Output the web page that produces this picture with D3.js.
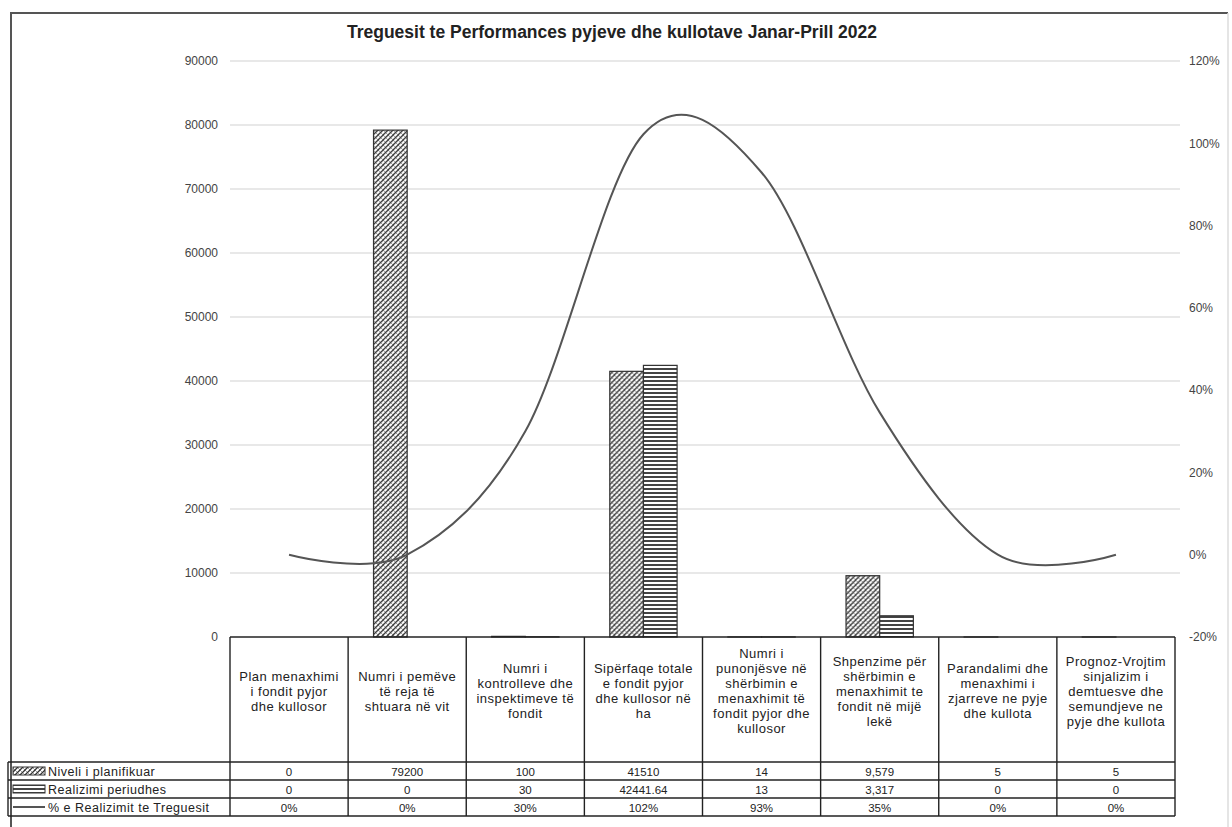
<!DOCTYPE html>
<html>
<head>
<meta charset="utf-8">
<script src="https://cdn.jsdelivr.net/npm/d3@7"></script>
<style>
  body { margin: 0; background: #fff; }
  svg { display: block; font-family: "Liberation Sans", Arial, sans-serif; }
</style>
</head>
<body>
<div id="chart"></div>
<script>
// chart data
var title = "Treguesit te Performances pyjeve dhe kullotave Janar-Prill 2022";

var categories = [
  ["Plan menaxhimi", "i fondit pyjor", "dhe kullosor"],
  ["Numri i pemëve", "të reja të", "shtuara në vit"],
  ["Numri i", "kontrolleve dhe", "inspektimeve të", "fondit"],
  ["Sipërfaqe totale", "e fondit pyjor", "dhe kullosor në", "ha"],
  ["Numri i", "punonjësve në", "shërbimin e", "menaxhimit të", "fondit pyjor dhe", "kullosor"],
  ["Shpenzime për", "shërbimin e", "menaxhimit te", "fondit në mijë", "lekë"],
  ["Parandalimi dhe", "menaxhimi i", "zjarreve ne pyje", "dhe kullota"],
  ["Prognoz-Vrojtim", "sinjalizim i", "demtuesve dhe", "semundjeve ne", "pyje dhe kullota"]
];

var seriesNames = ["Niveli i planifikuar", "Realizimi periudhes", "% e Realizimit te Treguesit"];

var planned  = [0, 79200, 100, 41510, 14, 9579, 5, 5];
var realized = [0, 0, 30, 42441.64, 13, 3317, 0, 0];
var percent  = [0, 0, 0.30, 1.022, 0.929, 0.346, 0, 0];

var plannedLabels  = ["0", "79200", "100", "41510", "14", "9,579", "5", "5"];
var realizedLabels = ["0", "0", "30", "42441.64", "13", "3,317", "0", "0"];

var leftTicks  = [0, 10000, 20000, 30000, 40000, 50000, 60000, 70000, 80000, 90000];
var rightTicks = [-0.2, 0, 0.2, 0.4, 0.6, 0.8, 1.0, 1.2];

// layout
var W = 1232, H = 827;
var plot = {left: 230, right: 1175, top: 61, bottom: 637};
var tableLeft = 8;
var headerBottom = 762, rowH = 18;

var svg = d3.select("#chart").append("svg")
    .attr("width", W)
    .attr("height", H);

svg.append("rect").attr("width", W).attr("height", H).attr("fill", "#fff");

// fill patterns (scan is greyscale)
var defs = svg.append("defs");
var hatch = defs.append("pattern")
    .attr("id", "hatch")
    .attr("patternUnits", "userSpaceOnUse")
    .attr("width", 5).attr("height", 5);
hatch.append("rect").attr("width", 5).attr("height", 5).attr("fill", "#fff");
hatch.append("path")
    .attr("d", "M0,0 L5,5")
    .attr("stroke", "#888").attr("stroke-width", 0.8);
hatch.append("path")
    .attr("d", "M-1,1 L1,-1 M0,5 L5,0 M4,6 L6,4")
    .attr("stroke", "#333").attr("stroke-width", 1.3);

var stripes = defs.append("pattern")
    .attr("id", "stripes")
    .attr("patternUnits", "userSpaceOnUse")
    .attr("width", 4).attr("height", 4);
stripes.append("rect").attr("width", 4).attr("height", 4).attr("fill", "#fff");
stripes.append("rect").attr("y", 0).attr("width", 4).attr("height", 2).attr("fill", "#444");

// outer chart border
svg.append("path")
    .attr("d", "M11,840 L11,13 L1228,13")
    .attr("fill", "none")
    .attr("stroke", "#555")
    .attr("stroke-width", 2);
svg.append("line")
    .attr("x1", 1228).attr("x2", 1228).attr("y1", 13).attr("y2", 840)
    .attr("stroke", "#ddd")
    .attr("stroke-width", 1.5);

// title
svg.append("text")
    .attr("x", 612).attr("y", 38)
    .attr("text-anchor", "middle")
    .attr("font-size", 17.5)
    .attr("font-weight", "bold")
    .attr("fill", "#222")
    .text(title);

// scales
var idx = d3.range(categories.length);
var x = d3.scaleBand().domain(idx).range([plot.left, plot.right]).padding(0);
var bw = x.bandwidth();
var x1 = d3.scaleBand().domain([0, 1]).range([bw * 0.215, bw * 0.785]).padding(0);

var y = d3.scaleLinear().domain([0, 90000]).range([plot.bottom, plot.top]);
var y2 = d3.scaleLinear().domain([-0.2, 1.2]).range([plot.bottom, plot.top]);

// gridlines
svg.append("g")
  .selectAll("line")
  .data(leftTicks.filter(function(d) { return d > 0; }))
  .enter().append("line")
    .attr("x1", plot.left).attr("x2", plot.right + 5)
    .attr("y1", function(d) { return y(d); })
    .attr("y2", function(d) { return y(d); })
    .attr("stroke", "#e0e0e0")
    .attr("stroke-width", 1.5);

// left axis
var gl = svg.append("g")
    .attr("transform", "translate(" + plot.left + ",0)")
    .call(d3.axisLeft(y).tickValues(leftTicks).tickSize(0).tickPadding(12).tickFormat(d3.format("d")));
gl.select(".domain").remove();
gl.selectAll("text").attr("font-size", 12).attr("fill", "#444").attr("font-family", "Liberation Sans");

// right axis (plain hyphen for the negative label, as in the source)
var pctFmt = function(d) { return d3.format(".0%")(d).replace("\u2212", "-"); };
var gr = svg.append("g")
    .attr("transform", "translate(" + plot.right + ",0)")
    .call(d3.axisRight(y2).tickValues(rightTicks).tickSize(0).tickPadding(14).tickFormat(pctFmt));
gr.select(".domain").remove();
gr.selectAll("text").attr("font-size", 12).attr("fill", "#444").attr("font-family", "Liberation Sans");

// bars
var groups = svg.append("g").selectAll("g")
  .data(idx)
  .enter().append("g")
    .attr("transform", function(i) { return "translate(" + x(i) + ",0)"; });

groups.append("rect")
    .attr("x", x1(0))
    .attr("width", x1.bandwidth())
    .attr("y", function(i) { return y(planned[i]); })
    .attr("height", function(i) { return y(0) - y(planned[i]); })
    .attr("fill", "url(#hatch)")
    .attr("stroke", "#333")
    .attr("stroke-width", 1.2);

groups.append("rect")
    .attr("x", x1(1))
    .attr("width", x1.bandwidth())
    .attr("y", function(i) { return y(realized[i]); })
    .attr("height", function(i) { return y(0) - y(realized[i]); })
    .attr("fill", "url(#stripes)")
    .attr("stroke", "#333")
    .attr("stroke-width", 1.2);

// % line, smoothed like the office chart
var line = d3.line()
    .x(function(i) { return x(i) + bw / 2; })
    .y(function(i) { return y2(percent[i]); })
    .curve(d3.curveCardinal.tension(0));

svg.append("path")
    .datum(idx)
    .attr("d", line)
    .attr("fill", "none")
    .attr("stroke", "#555")
    .attr("stroke-width", 2);

// data table under the plot
var table = svg.append("g").attr("stroke", "#222").attr("stroke-width", 1.4);
var tableBottom = headerBottom + rowH * 3;

table.append("line")
    .attr("x1", plot.left).attr("x2", plot.right)
    .attr("y1", plot.bottom).attr("y2", plot.bottom);
[0, 1, 2, 3].forEach(function(r) {
  table.append("line")
      .attr("x1", tableLeft).attr("x2", plot.right)
      .attr("y1", headerBottom + r * rowH).attr("y2", headerBottom + r * rowH);
});
table.append("line")
    .attr("x1", tableLeft).attr("x2", tableLeft)
    .attr("y1", headerBottom).attr("y2", tableBottom);
idx.concat([categories.length]).forEach(function(i) {
  var xx = i < categories.length ? x(i) : plot.right;
  table.append("line")
      .attr("x1", xx).attr("x2", xx)
      .attr("y1", plot.bottom).attr("y2", tableBottom);
});

// header text
var headerMid = 691, lh = 15;
idx.forEach(function(i) {
  var lines = categories[i];
  var t = svg.append("text")
      .attr("text-anchor", "middle")
      .attr("font-size", 13)
      .attr("letter-spacing", 0.5)
      .attr("fill", "#222");
  lines.forEach(function(s, k) {
    t.append("tspan")
        .attr("x", x(i) + bw / 2)
        .attr("y", headerMid + (k - (lines.length - 1) / 2) * lh + 4.5)
        .text(s);
  });
});

// row values
var rows = [plannedLabels, realizedLabels, percent.map(d3.format(".0%"))];
rows.forEach(function(vals, r) {
  svg.append("g").selectAll("text")
    .data(idx)
    .enter().append("text")
      .attr("x", function(i) { return x(i) + bw / 2; })
      .attr("y", headerBottom + r * rowH + 13.5)
      .attr("text-anchor", "middle")
      .attr("font-size", 11.5)
      .attr("fill", "#222")
      .text(function(i) { return vals[i]; });
});

// legend keys in the first column
var keyX = 13, keyW = 32;
seriesNames.forEach(function(name, r) {
  var cy = headerBottom + r * rowH + rowH / 2;
  if (r === 0) {
    svg.append("rect").attr("x", keyX).attr("y", cy - 4).attr("width", keyW).attr("height", 8)
        .attr("fill", "url(#hatch)").attr("stroke", "#333");
  } else if (r === 1) {
    svg.append("rect").attr("x", keyX).attr("y", cy - 4).attr("width", keyW).attr("height", 8)
        .attr("fill", "url(#stripes)").attr("stroke", "#333");
  } else {
    svg.append("line").attr("x1", keyX).attr("x2", keyX + keyW).attr("y1", cy).attr("y2", cy)
        .attr("stroke", "#555").attr("stroke-width", 2);
  }
  svg.append("text")
      .attr("x", keyX + keyW + 3)
      .attr("y", cy + 4.5)
      .attr("font-size", 12.5)
      .attr("letter-spacing", 0.5)
      .attr("fill", "#222")
      .text(name);
});
</script>
</body>
</html>
